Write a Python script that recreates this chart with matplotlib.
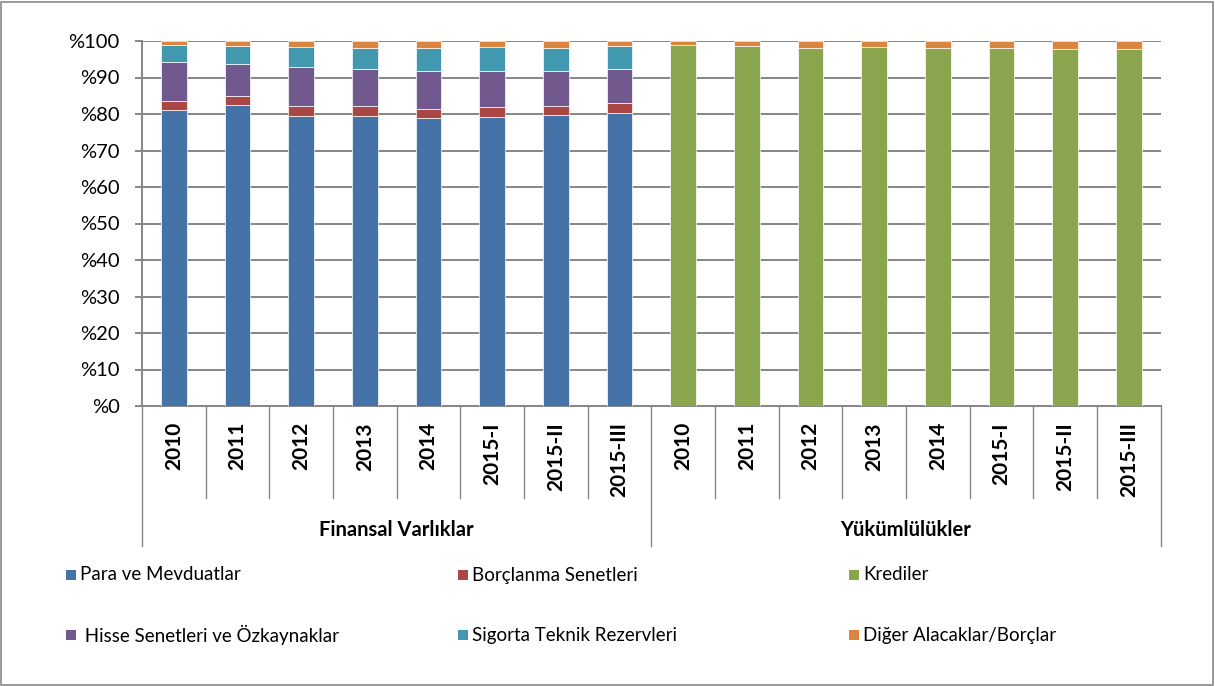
import numpy as np
import matplotlib.pyplot as plt
from matplotlib.patches import Rectangle
from matplotlib.transforms import blended_transform_factory

plt.rcParams['font.family'] = ['Lato', 'DejaVu Sans']

# data (percent shares)
categories = ['2010', '2011', '2012', '2013', '2014', '2015-I', '2015-II', '2015-III']
groups = ['Finansal Varlıklar', 'Yükümlülükler']

para = [81.2, 82.6, 79.4, 79.5, 78.8, 79.1, 79.6, 80.3]
borclanma = [2.4, 2.3, 2.7, 2.8, 2.7, 2.7, 2.7, 2.7]
hisse = [10.6, 8.9, 10.7, 10.1, 10.2, 10.1, 9.6, 9.2]
sigorta = [4.6, 4.8, 5.5, 5.7, 6.5, 6.5, 6.3, 6.4]
diger_varlik = [1.2, 1.4, 1.7, 1.9, 1.8, 1.6, 1.8, 1.4]

krediler = [98.8, 98.5, 98.2, 98.3, 98.1, 98.1, 97.9, 97.9]
diger_yukum = [1.2, 1.5, 1.8, 1.7, 1.9, 1.9, 2.1, 2.1]

labels = ['Para ve Mevduatlar', 'Borçlanma Senetleri', 'Krediler',
          ' Hisse Senetleri ve Özkaynaklar', 'Sigorta Teknik Rezervleri',
          'Diğer Alacaklar/Borçlar']
colors = {
    'para': '#4572A7', 'borc': '#AA4643', 'kredi': '#89A54E',
    'hisse': '#71588F', 'sigorta': '#4198AF', 'diger': '#DB843D',
}
GRID = '#868686'

fig = plt.figure(figsize=(12.15, 6.86), dpi=100)
ax = fig.add_axes([142 / 1215, 1 - 406 / 686, (1160.6 - 142) / 1215, 365 / 686])

n = len(categories)
xa = np.arange(n)
xl = np.arange(n) + n
w = 0.4
kw = dict(width=w, edgecolor='#ffffff', linewidth=0.5, zorder=3)

bottom = np.zeros(n)
for vals, c in [(para, 'para'), (borclanma, 'borc'), (hisse, 'hisse'),
                (sigorta, 'sigorta'), (diger_varlik, 'diger')]:
    ax.bar(xa, vals, bottom=bottom, color=colors[c], **kw)
    bottom += np.array(vals)

bottom = np.zeros(n)
for vals, c in [(krediler, 'kredi'), (diger_yukum, 'diger')]:
    ax.bar(xl, vals, bottom=bottom, color=colors[c], **kw)
    bottom += np.array(vals)

ax.set_xlim(-0.5, 2 * n - 0.5)
ax.set_ylim(0, 100)
ax.set_yticks(np.arange(0, 101, 10))
ax.set_yticklabels(['%' + str(v) for v in range(0, 101, 10)], fontsize=14.5)
ax.tick_params(axis='y', length=5, width=1.4, color=GRID, pad=11)
ax.set_xticks([])
ax.grid(axis='y', color=GRID, linewidth=1.4, zorder=0)
ax.set_axisbelow(True)
for s in ['top', 'right']:
    ax.spines[s].set_visible(False)
for s in ['left', 'bottom']:
    ax.spines[s].set_color(GRID)
    ax.spines[s].set_linewidth(1.4)

# multi-level category axis
tr = blended_transform_factory(ax.transData, ax.transAxes)
for i, cat in enumerate(categories * 2):
    ax.text(i, -0.044, cat, transform=tr, rotation=90, ha='center', va='top',
            fontsize=15, fontweight='bold')
for b in np.arange(-0.5, 2 * n, 1.0):
    low = -0.384 if (b + 0.5) % n == 0 else -0.252
    ax.plot([b, b], [0, low], transform=tr, color=GRID, linewidth=1.0,
            clip_on=False)
for g, name in enumerate(groups):
    ax.text(g * n + (n - 1) / 2, -0.34, name, transform=tr, ha='center',
            va='center', fontsize=14.5, fontweight='bold')

# legend, laid out like the original (three columns, two rows)
leg_colors = [colors['para'], colors['borc'], colors['kredi'],
              colors['hisse'], colors['sigorta'], colors['diger']]
for k, (lab, col) in enumerate(zip(labels, leg_colors)):
    cx = 66 + (k % 3) * 391.5
    cy = 575 + (k // 3) * 60
    fig.patches.append(Rectangle((cx / 1215, 1 - (cy + 5) / 686), 10 / 1215, 10 / 686,
                                 transform=fig.transFigure, facecolor=col,
                                 edgecolor='none'))
    fig.text((cx + 14) / 1215, 1 - cy / 686, lab, fontsize=13.5, va='center',
             ha='left')

# outer frame
fig.patches.append(Rectangle((0.001, 0.001), 0.997, 0.996, transform=fig.transFigure,
                             facecolor='none', edgecolor='#898989', linewidth=1.2))

fig.savefig('out.png', dpi=100)
